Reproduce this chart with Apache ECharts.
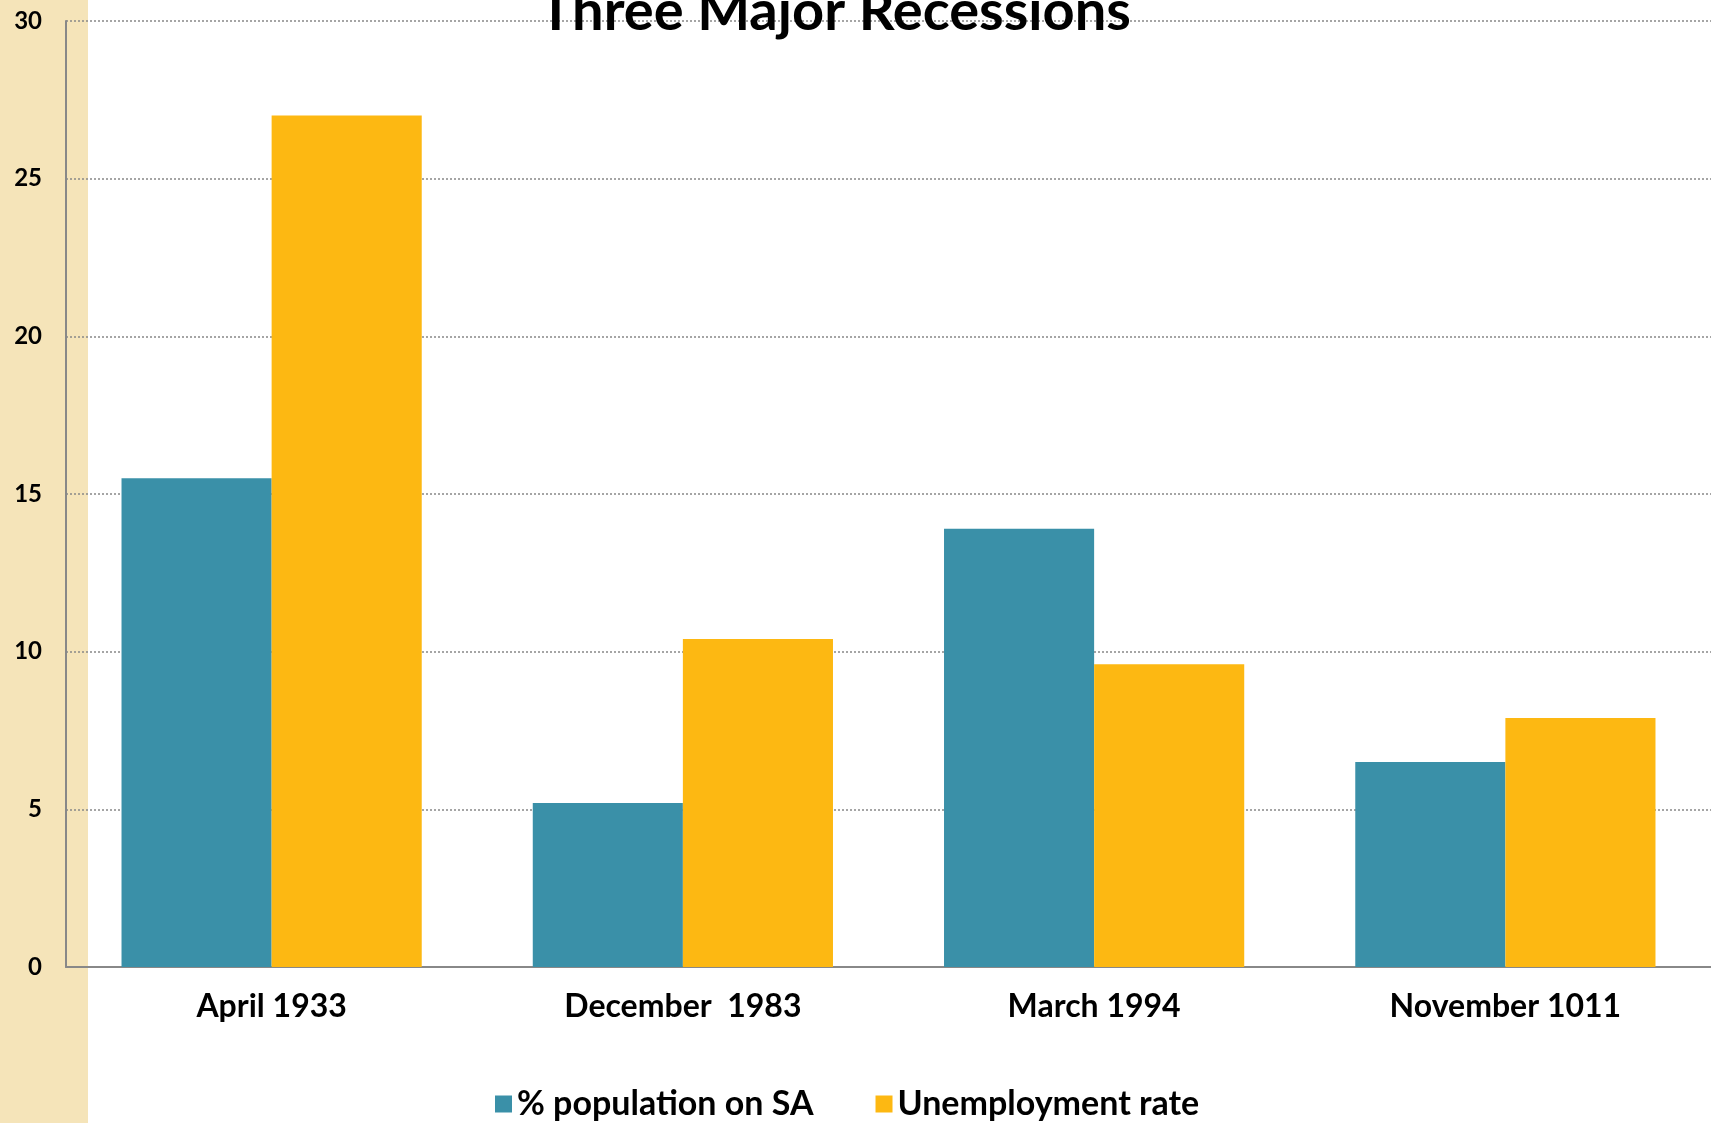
<!DOCTYPE html>
<html>
<head>
<meta charset="utf-8">
<style>
  html, body { margin: 0; padding: 0; background: #fff; }
  #chart { width: 1711px; height: 1123px; }
</style>
<script src="https://cdn.jsdelivr.net/npm/echarts@6/dist/echarts.min.js"></script>
</head>
<body>
<div id="chart"></div>
<script>
var categories = ['April 1933', 'December  1983', 'March 1994', 'November 1011'];
var popOnSA = [15.5, 5.2, 13.9, 6.5];
var unemployment = [27.0, 10.4, 9.6, 7.9];
var seriesNames = ['% population on SA', 'Unemployment rate'];

var chart = echarts.init(document.getElementById('chart'));

var option = {
	animation: false,
	backgroundColor: '#ffffff',
	title: {
		text: 'Three Major Recessions',
		left: 534,
		top: -21,
		textStyle: {
			fontFamily: 'Lato',
			fontWeight: 'bold',
			fontSize: 56,
			color: '#000'
		}
	},
	// beige strip on the left edge
	graphic: [{
		type: 'rect',
		z: -10,
		left: 0,
		top: 0,
		shape: { width: 88, height: 1123 },
		style: { fill: '#f5e4b9' }
	}],
	legend: {
		data: seriesNames,
		bottom: -3,
		left: 490,
		icon: 'rect',
		itemWidth: 17,
		itemHeight: 17,
		itemGap: 62,
		textStyle: {
			fontFamily: 'Lato',
			fontWeight: 'bold',
			fontSize: 34,
			color: '#000'
		}
	},
	grid: {
		left: 66,
		right: 0,
		top: 21,
		bottom: 156,
		containLabel: false
	},
	xAxis: {
		type: 'category',
		data: categories,
		axisLine: { lineStyle: { color: '#888', width: 2 } },
		axisTick: { show: false },
		axisLabel: {
			margin: 24,
			fontFamily: 'Lato',
			fontWeight: 'bold',
			fontSize: 32,
			color: '#000'
		}
	},
	yAxis: {
		type: 'value',
		min: 0,
		max: 30,
		interval: 5,
		axisLine: { show: true, lineStyle: { color: '#888', width: 2 } },
		axisTick: { show: false },
		splitLine: { lineStyle: { color: '#888', type: [2, 2], width: 1.5 } },
		axisLabel: {
			margin: 24,
			fontFamily: 'Lato',
			fontWeight: 'bold',
			fontSize: 24,
			color: '#000'
		}
	},
	series: [{
		name: seriesNames[0],
		type: 'bar',
		data: popOnSA,
		barGap: '0%',
		barCategoryGap: '27%',
		itemStyle: { color: '#3a90a8' }
	}, {
		name: seriesNames[1],
		type: 'bar',
		data: unemployment,
		itemStyle: { color: '#fdb812' }
	}]
};

chart.setOption(option);
</script>
</body>
</html>
